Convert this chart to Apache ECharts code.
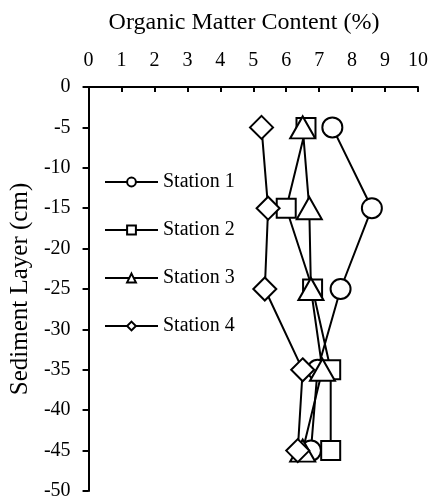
<!DOCTYPE html>
<html><head><meta charset="utf-8">
<script src="https://cdn.jsdelivr.net/npm/echarts@6/dist/echarts.min.js"></script>
<style>html,body{margin:0;padding:0;background:#fff}#c{width:431px;height:504px}</style>
</head><body><div id="c"></div>
<script>
const depths = [-5, -15, -25, -35, -45];
const station1 = [7.4, 8.6, 7.65, 6.95, 6.75];
const station2 = [6.6, 6.0, 6.8, 7.35, 7.35];
const station3 = [6.5, 6.7, 6.75, 7.1, 6.5];
const station4 = [5.25, 5.45, 5.35, 6.5, 6.35];
const names = ['Station 1', 'Station 2', 'Station 3', 'Station 4'];
const xTicks = [0,1,2,3,4,5,6,7,8,9,10];

const font = 'Liberation Serif, Times New Roman, serif';
const symbols = ['circle', 'rect', 'triangle', 'diamond'];
const sizes = [20, 19, [25, 22], 23];
const vals = [station1, station2, station3, station4];

const chart = echarts.init(document.getElementById('c'), null, {renderer: 'canvas'});
chart.setOption({
  animation: false,
  backgroundColor: '#fff',
  title: {
    text: 'Organic Matter Content (%)', left: 239, top: 6, textAlign: 'center',
    textStyle: {fontFamily: font, fontSize: 24, fontWeight: 'normal', color: '#000'}
  },
  legend: {
    orient: 'vertical', left: 99, top: 167, itemGap: 28,
    itemWidth: 53, itemHeight: 11,
    textStyle: {fontFamily: font, fontSize: 20, color: '#000'},
    data: names
  },
  grid: {left: 87, top: 87, width: 333, height: 404, containLabel: false},
  xAxis: {
    type: 'value', position: 'top', min: 0, max: 10, interval: 1,
    axisLine: {lineStyle: {color: '#000', width: 2}},
    axisTick: {inside: true, length: 5, lineStyle: {color: '#000', width: 2}},
    axisLabel: {fontFamily: font, fontSize: 20, color: '#000', margin: 16,
      formatter: v => String(xTicks[Math.round(v)])},
    splitLine: {show: false}
  },
  yAxis: {
    type: 'value', min: -50, max: 0, interval: 5,
    name: 'Sediment Layer (cm)', nameLocation: 'middle', nameGap: 53, nameRotate: 90,
    nameTextStyle: {fontFamily: font, fontSize: 25, color: '#000'},
    axisLine: {lineStyle: {color: '#000', width: 2}},
    axisTick: {inside: false, length: 6, lineStyle: {color: '#000', width: 2}},
    axisLabel: {fontFamily: font, fontSize: 20, color: '#000', margin: 18},
    splitLine: {show: false}
  },
  series: names.map((n, i) => ({
    name: n, type: 'line',
    data: depths.map((d, k) => [vals[i][k], d]),
    symbol: symbols[i], symbolSize: sizes[i],
    lineStyle: {color: '#000', width: 2},
    itemStyle: {color: '#fff', borderColor: '#000', borderWidth: 2},
    z: 2 + i
  }))
});
</script></body></html>
